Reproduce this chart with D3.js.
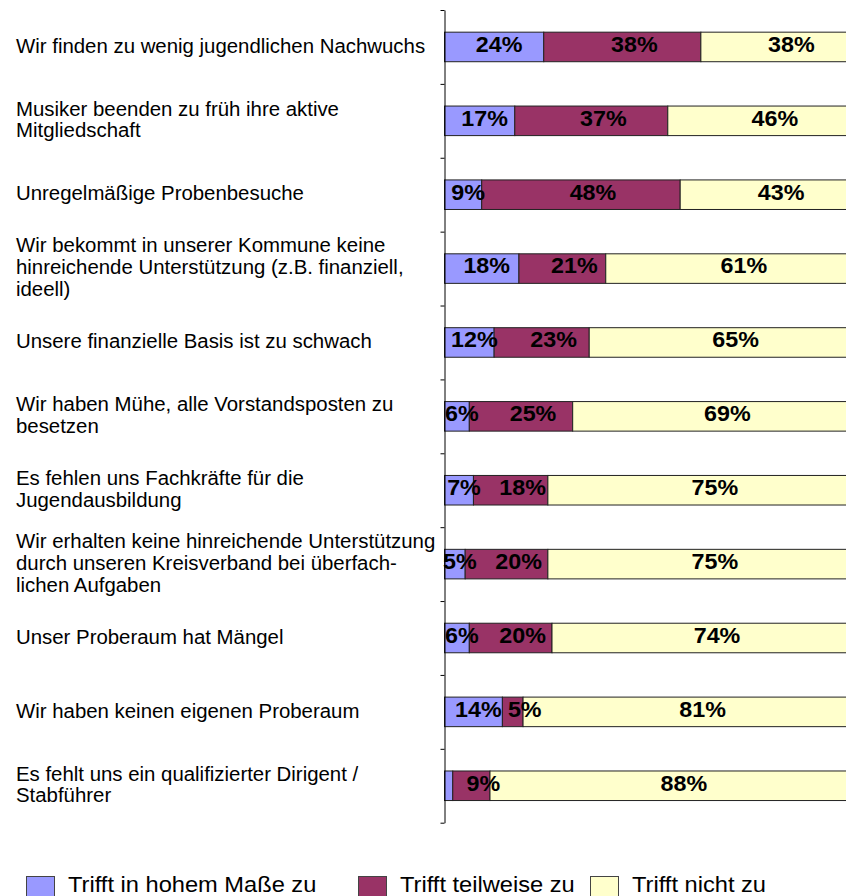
<!DOCTYPE html>
<html>
<head>
<meta charset="utf-8">
<script src="https://cdn.jsdelivr.net/npm/d3@7"></script>
<style>
  html, body { margin: 0; padding: 0; background: #fff; }
  svg { display: block; }
  text { font-family: "Liberation Sans", Arial, sans-serif; }
</style>
</head>
<body>
<script>
// ---- Data ----
const categories = [
  "Wir finden zu wenig jugendlichen Nachwuchs",
  "Musiker beenden zu früh ihre aktive\nMitgliedschaft",
  "Unregelmäßige Probenbesuche",
  "Wir bekommt in unserer Kommune keine\nhinreichende Unterstützung (z.B. finanziell,\nideell)",
  "Unsere finanzielle Basis ist zu schwach",
  "Wir haben Mühe, alle Vorstandsposten zu\nbesetzen",
  "Es fehlen uns Fachkräfte für die\nJugendausbildung",
  "Wir erhalten keine hinreichende Unterstützung\ndurch unseren Kreisverband bei überfach-\nlichen Aufgaben",
  "Unser Proberaum hat Mängel",
  "Wir haben keinen eigenen Proberaum",
  "Es fehlt uns ein qualifizierter Dirigent /\nStabführer"
];
const seriesNames = ["Trifft in hohem Maße zu", "Trifft teilweise zu", "Trifft nicht zu"];
const trifftHoch      = [24, 17,  9, 18, 12,  6,  7,  5,  6, 14,  2];
const trifftTeilweise = [38, 37, 48, 21, 23, 25, 18, 20, 20,  5,  9];
const trifftNicht     = [38, 46, 43, 61, 65, 69, 75, 75, 74, 81, 88];
const colors = ["#9999FF", "#993366", "#FFFFCC"];

// ---- Layout ----
const W = 846, H = 896;
const axisX = 444.5, plotTop = 10, plotBottom = 822.7, barEnd = 858;
const keys = ["hoch", "teil", "nicht"];
const rows = categories.map((c, i) => ({
  idx: i, cat: c, hoch: trifftHoch[i], teil: trifftTeilweise[i], nicht: trifftNicht[i]
}));

const svg = d3.select("body").append("svg").attr("width", W).attr("height", H);

const y = d3.scaleBand().domain(d3.range(categories.length))
  .range([plotTop, plotBottom]).paddingInner(0.6).paddingOuter(0.3);
const x = d3.scaleLinear().domain([0, 100]).range([axisX, barEnd]);

const stack = d3.stack().keys(keys);
const series = stack(rows);

// bars
const g = svg.append("g");
series.forEach((s, si) => {
  g.selectAll(null).data(s).enter().append("rect")
    .attr("x", d => x(d[0]))
    .attr("y", d => y(d.data.idx))
    .attr("width", d => x(d[1]) - x(d[0]))
    .attr("height", y.bandwidth())
    .attr("fill", colors[si])
    .attr("stroke", "#222")
    .attr("stroke-width", 1);
});

// value labels
const labOffset = [5, 12, 12];
series.forEach((s, si) => {
  g.selectAll(null).data(s.filter(d => d[1] - d[0] >= 3)).enter().append("text")
    .attr("transform", d => {
      const cx = (x(d[0]) + x(d[1])) / 2 + labOffset[si];
      const cy = y(d.data.idx) + y.bandwidth() / 2 + 4.9;
      return `translate(${cx},${cy}) scale(1.06,1)`;
    })
    .attr("text-anchor", "middle")
    .attr("font-size", 22)
    .attr("font-weight", "bold")
    .attr("fill", "#000")
    .text(d => (d[1] - d[0]) + "%");
});

// axis
const yAxisScale = d3.scaleLinear().domain([0, categories.length]).range([plotTop, plotBottom]);
const axis = d3.axisLeft(yAxisScale).tickValues(d3.range(categories.length + 1))
  .tickSize(4).tickSizeOuter(0).tickFormat("");
const ax = svg.append("g").attr("transform", `translate(${axisX},0)`).call(axis);
ax.selectAll("path, line").attr("stroke", "#000").attr("stroke-width", 1);

// category labels
const lineH = 21.8;
const catG = svg.append("g");
rows.forEach(r => {
  const lines = r.cat.split("\n");
  const cy = y(r.idx) + y.bandwidth() / 2;
  const firstBase = cy - (lines.length - 1) * lineH / 2 + 7.2 - 1.5;
  lines.forEach((ln, li) => {
    catG.append("text")
      .attr("transform", `translate(16,${firstBase + li * lineH}) scale(1.02,1)`)
      .attr("font-size", 20)
      .attr("fill", "#000")
      .text(ln);
  });
});

// legend
const legX = [26, 358, 590];
const legG = svg.append("g");
seriesNames.forEach((nm, i) => {
  legG.append("rect")
    .attr("x", legX[i] + 0.5).attr("y", 876.5)
    .attr("width", 28).attr("height", 28)
    .attr("fill", colors[i]).attr("stroke", "#444").attr("stroke-width", 1);
  legG.append("text")
    .attr("transform", `translate(${legX[i] + 42},891.7) scale(1.1,1)`)
    .attr("font-size", 21.5)
    .attr("fill", "#000")
    .text(nm);
});
</script>
</body>
</html>
